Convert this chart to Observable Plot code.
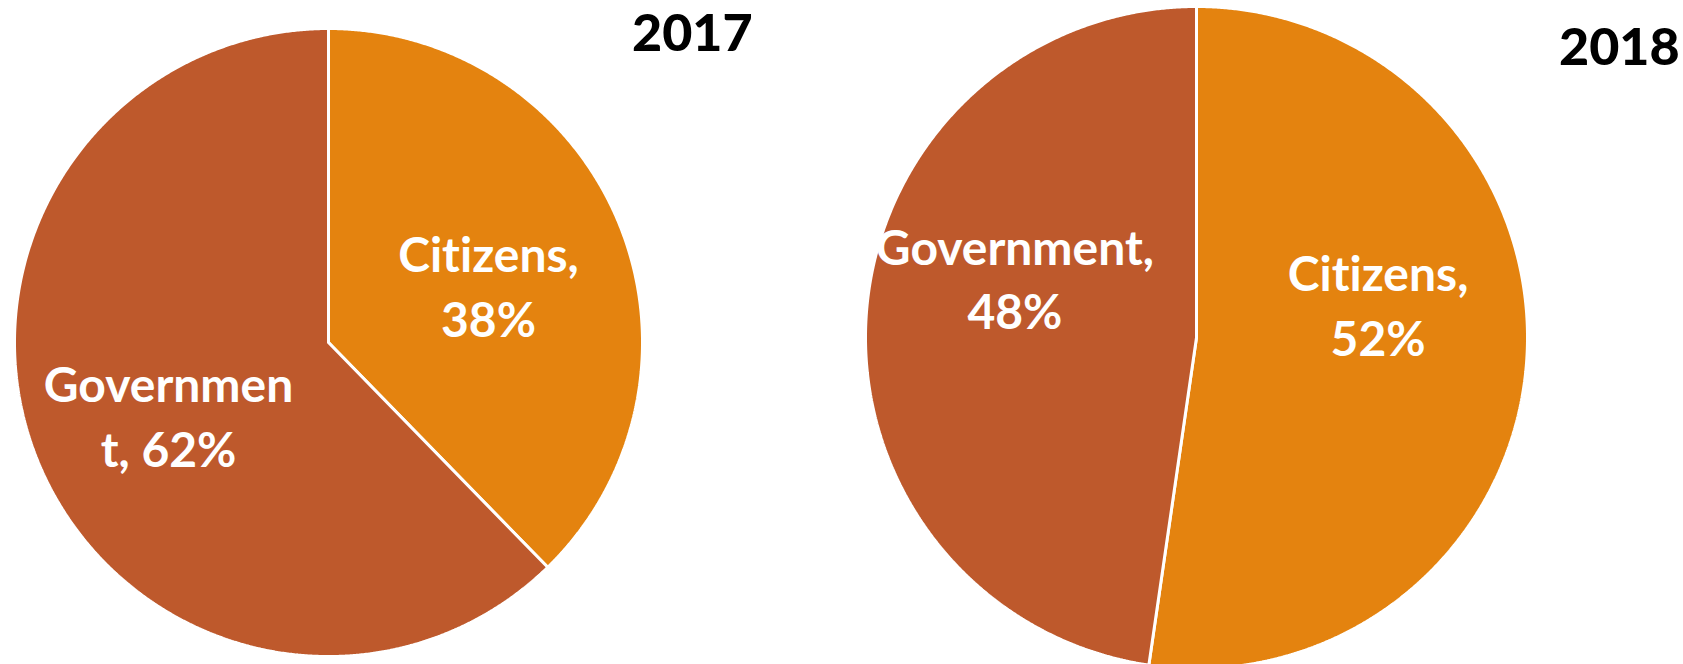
<!DOCTYPE html>
<html>
<head>
<meta charset="utf-8">
<script src="https://cdn.jsdelivr.net/npm/d3@7"></script>
<script src="https://cdn.jsdelivr.net/npm/@observablehq/plot@0.6"></script>
<style>
  html, body { margin: 0; padding: 0; background: #fff; }
  #root { position: relative; width: 1683px; height: 664px; overflow: hidden; background: #fff; }
  .pie { position: absolute; }
  .pie text { font-variant-ligatures: none; font-feature-settings: "liga" 0, "clig" 0; }
  .year { position: absolute; font-family: Lato, "DejaVu Sans", sans-serif; font-weight: 900; font-size: 52px; color: #000; line-height: 1; }
</style>
</head>
<body>
<div id="root"></div>
<script>
// ---- data ----
const categories = ["Citizens", "Government"];
const years = ["2017", "2018"];
const values2017 = [37.7, 62.3];
const values2018 = [52.3, 47.7];
const labels2017 = ["Citizens,\n38%", "Governmen\nt, 62%"];
const labels2018 = ["Citizens,\n52%", "Government,\n48%"];
const colors = ["#E4830F", "#BE592C"];

// ---- layout ----
const pies = [
  {year: years[0], values: values2017, labels: labels2017, cx: 328, cy: 342, r: 314, labelDy: 6, yearLeft: 632, yearTop: 5},
  {year: years[1], values: values2018, labels: labels2018, cx: 1196, cy: 337, r: 331, labelDy: -48, yearLeft: 1559, yearTop: 19}
];

const root = document.getElementById("root");

function slicePolygons(values) {
  const arcs = d3.pie().sort(null).startAngle(0).endAngle(2 * Math.PI)(values);
  const pts = [];
  arcs.forEach((a, i) => {
    const name = categories[i];
    pts.push({name, x: 0, y: 0});
    const n = Math.max(4, Math.ceil((a.endAngle - a.startAngle) / 0.005));
    for (let k = 0; k <= n; k++) {
      const t = a.startAngle + (a.endAngle - a.startAngle) * k / n;
      pts.push({name, x: Math.sin(t), y: Math.cos(t)});
    }
    pts.push({name, x: 0, y: 0});
  });
  return {arcs, pts};
}

pies.forEach(p => {
  const {arcs, pts} = slicePolygons(p.values);
  const k = 0.55;
  const labelData = arcs.map((a, i) => {
    const mid = (a.startAngle + a.endAngle) / 2;
    return {name: categories[i], text: p.labels[i], x: k * Math.sin(mid), y: k * Math.cos(mid)};
  });
  const size = 2 * p.r;
  const chart = Plot.plot({
    width: size,
    height: size,
    margin: 0,
    x: {domain: [-1, 1], axis: null},
    y: {domain: [-1, 1], axis: null},
    color: {domain: categories, range: colors},
    style: {background: "transparent", overflow: "visible"},
    marks: [
      Plot.line(pts, {x: "x", y: "y", z: "name", fill: "name", stroke: "white", strokeWidth: 3, strokeLinejoin: "miter", curve: "linear"}),
      Plot.text(labelData, {
        x: "x", y: "y", text: "text",
        fill: "white", fontSize: 48, fontWeight: "bold",
        fontFamily: "Lato, 'DejaVu Sans', sans-serif",
        lineHeight: 1.35, dy: p.labelDy
      })
    ]
  });
  chart.classList.add("pie");
  chart.style.left = (p.cx - p.r) + "px";
  chart.style.top = (p.cy - p.r) + "px";
  root.appendChild(chart);

  const y = document.createElement("div");
  y.className = "year";
  y.textContent = p.year;
  y.style.left = p.yearLeft + "px";
  y.style.top = p.yearTop + "px";
  root.appendChild(y);
});
</script>
</body>
</html>
